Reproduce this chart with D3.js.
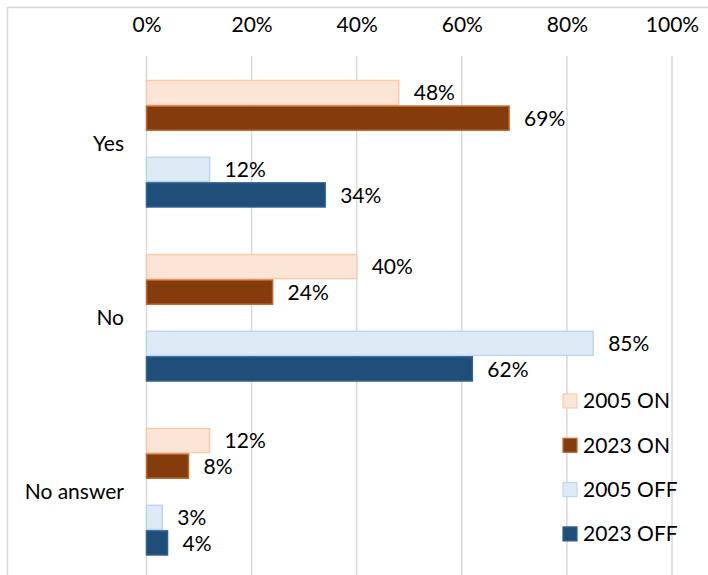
<!DOCTYPE html>
<html><head><meta charset="utf-8">
<script src="https://cdn.jsdelivr.net/npm/d3@7"></script>
<style>body{margin:0;background:#fff}svg{display:block}text{font-family:Lato,"Open Sans",sans-serif;fill:#000}</style>
</head><body><div id="chart"></div>
<script>
const categories = ["Yes", "No", "No answer"];
const seriesNames = ["2005 ON", "2023 ON", "2005 OFF", "2023 OFF"];
const on2005 = [48, 40, 12];
const on2023 = [69, 24, 8];
const off2005 = [12, 85, 3];
const off2023 = [34, 62, 4];
const tickValues = [0, 20, 40, 60, 80, 100];

const seriesValues = [on2005, on2023, off2005, off2023];
const fills = ["#FBE5D6", "#843C0C", "#DEEBF7", "#1F4E79"];
const strokes = ["#F8CBAD", "#C0672E", "#BDD7EE", "#2E5F8E"];

const W = 708, H = 575;
const svg = d3.select("#chart").append("svg").attr("width", W).attr("height", H);

svg.append("rect").attr("x", 7.5).attr("y", 7.5).attr("width", 720).attr("height", 600)
  .attr("fill", "none").attr("stroke", "#D9D9D9").attr("stroke-width", 1.5);

const x = d3.scaleLinear().domain([0, 100]).range([146.5, 672]);
const y = d3.scaleBand().domain(categories).range([57, 579]);
// slots: 2 ON series, a gap slot, 2 OFF series
const slot = d3.scaleBand().domain([0, 1, "gap", 2, 3]).range([0, y.bandwidth()]).paddingOuter(0.9).paddingInner(0);

// gridlines
svg.append("g").selectAll("line").data(tickValues).join("line")
  .attr("x1", d => x(d)).attr("x2", d => x(d)).attr("y1", 56).attr("y2", H)
  .attr("stroke", "#D9D9D9").attr("stroke-width", 1.5);

// top axis labels
const axis = d3.axisTop(x).tickValues(tickValues).tickFormat(d => d + "%").tickSize(0).tickPadding(0);
const ax = svg.append("g").attr("transform", "translate(0,32)").call(axis);
ax.select(".domain").remove();
ax.selectAll("text").attr("font-size", 21).style("font-family", "Lato").attr("fill", "#000").attr("dy", 0);

// category labels
svg.append("g").selectAll("text").data(categories).join("text")
  .attr("x", 124).attr("y", d => y(d) + y.bandwidth() / 2).attr("dy", "0.35em")
  .attr("text-anchor", "end").attr("font-size", 21).text(d => d);

// bars
seriesValues.forEach((vals, s) => {
  const g = svg.append("g");
  g.selectAll("rect").data(categories).join("rect")
    .attr("x", x(0)).attr("y", (c) => y(c) + slot(s) + 0.5)
    .attr("width", (c, i) => x(vals[i]) - x(0)).attr("height", slot.bandwidth() - 1.5)
    .attr("fill", fills[s]).attr("stroke", strokes[s]).attr("stroke-width", 1.5);
  g.selectAll("text").data(categories).join("text")
    .attr("x", (c, i) => x(vals[i]) + 15).attr("y", c => y(c) + slot(s) + slot.bandwidth() / 2)
    .attr("dy", "0.35em").attr("font-size", 21).text((c, i) => vals[i] + "%");
});

// legend
const lg = svg.append("g");
seriesNames.forEach((n, i) => {
  const ly = 401 + i * 44.3;
  lg.append("rect").attr("x", 563).attr("y", ly - 7).attr("width", 14).attr("height", 14)
    .attr("fill", fills[i]).attr("stroke", strokes[i]).attr("stroke-width", 1.2);
  lg.append("text").attr("x", 583).attr("y", ly).attr("dy", "0.35em").attr("font-size", 21).text(n);
});
</script></body></html>
